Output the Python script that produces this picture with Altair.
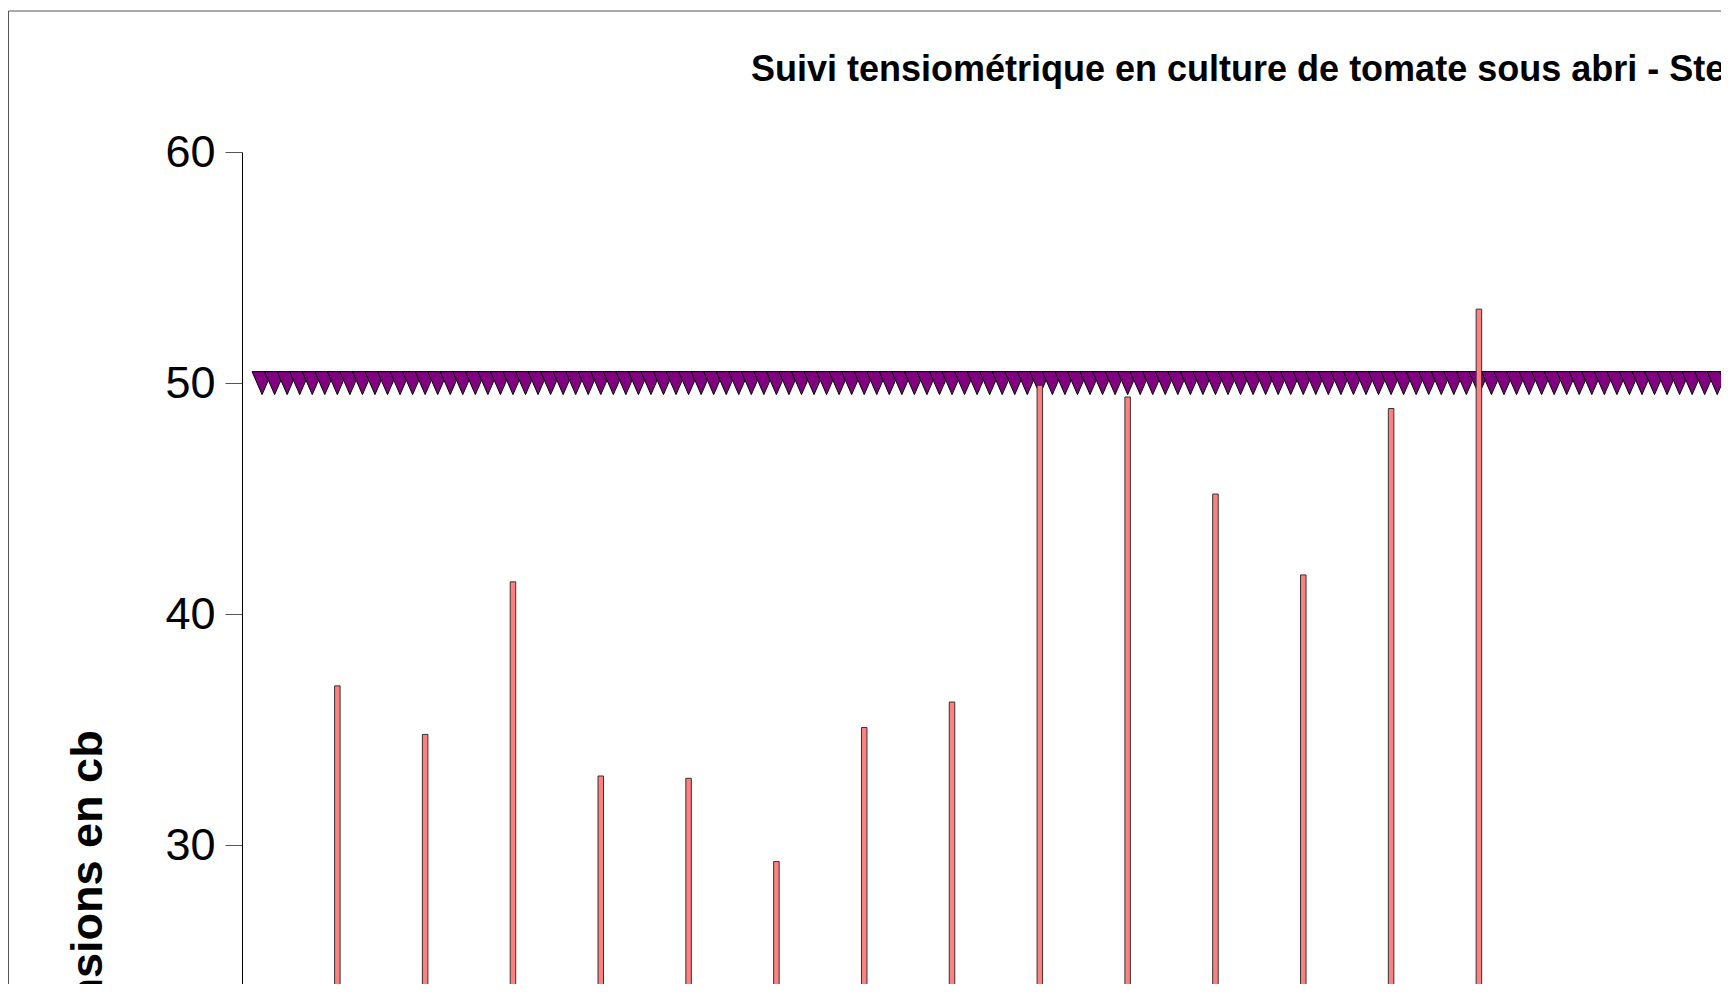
import altair as alt
import pandas as pd

# --- textes ---
titre_texte = "Suivi tensiométrique en culture de tomate sous abri - Ste"
titre_axe_y = "Tensions en cb"
graduations_y = [30, 40, 50, 60]

# --- relevés tensiométriques hebdomadaires (index de jour) ---
jours_releves = [6, 13, 20, 27, 34, 41, 48, 55, 62, 69, 76, 83, 90, 97]
tensions = [36.9, 34.8, 41.4, 33.0, 32.9, 29.3, 35.1, 36.2, 49.9, 49.4, 45.2, 41.7, 48.9, 53.2]

# --- seuil quotidien (cb) ---
jours_seuil = list(range(0, 125))
seuil = [
    50, 50, 50, 50, 50, 50, 50, 50, 50, 50, 50, 50, 50, 50, 50, 50, 50, 50, 50, 50, 50, 50, 50, 50, 50,
    50, 50, 50, 50, 50, 50, 50, 50, 50, 50, 50, 50, 50, 50, 50, 50, 50, 50, 50, 50, 50, 50, 50, 50, 50,
    50, 50, 50, 50, 50, 50, 50, 50, 50, 50, 50, 50, 50, 50, 50, 50, 50, 50, 50, 50, 50, 50, 50, 50, 50,
    50, 50, 50, 50, 50, 50, 50, 50, 50, 50, 50, 50, 50, 50, 50, 50, 50, 50, 50, 50, 50, 50, 50, 50, 50,
    50, 50, 50, 50, 50, 50, 50, 50, 50, 50, 50, 50, 50, 50, 50, 50, 50, 50, 50, 50, 50, 50, 50, 50, 50,
]

df_bar = pd.DataFrame({"jour": jours_releves, "valeur": tensions})
df_seuil = pd.DataFrame({"jour": jours_seuil, "valeur": seuil})

# visible window of the (larger) chart
W = 1479
H = 832
FONT = "Liberation Sans"

x_scale = alt.Scale(domain=[-1.6, 116.3], nice=False, zero=False, padding=0)
y_scale = alt.Scale(domain=[24, 60], nice=False, zero=False)

y_axis = alt.Axis(
    values=graduations_y, grid=False,
    labelFont=FONT, labelFontSize=45, labelColor="#000", labelPadding=10,
    tickSize=17, tickColor="#555", tickWidth=1,
    domainColor="#000", domainWidth=1,
    title=titre_axe_y, titleFont=FONT, titleFontSize=45, titleFontWeight="bold",
    titleColor="#000", titleAngle=270, titleX=-141, titleY=740,
    titleAlign="center", titleBaseline="alphabetic",
)
x_axis = alt.Axis(labels=False, ticks=False, grid=False, title="", domain=False)

X = alt.X("jour:Q", scale=x_scale, axis=x_axis)
Y = alt.Y("valeur:Q", scale=y_scale, axis=y_axis)

cadre = alt.Chart(alt.Data(values=[{"k": 0}])).mark_rect(
    fillOpacity=0, stroke="#555", strokeWidth=1
).encode(
    x=alt.value(-233.5), x2=alt.value(W + 60),
    y=alt.value(-141), y2=alt.value(H + 140),
)

points = alt.Chart(df_seuil).mark_point(
    shape="M-0.87,-1L0.87,-1L0,1Z", size=529, filled=True,
    fill="#800080", stroke="#000", strokeWidth=1, opacity=1,
).encode(x=X, y=Y)

barres = alt.Chart(df_bar).mark_bar(
    size=5.5, fill="#FF8080", stroke="#333", strokeWidth=1
).encode(x=X, y=Y)

titre = alt.Chart(alt.Data(values=[{"k": 0}])).mark_text(
    text=titre_texte, align="left", baseline="alphabetic",
    font=FONT, fontSize=36, fontWeight="bold", color="#000",
).encode(x=alt.value(509), y=alt.value(-71))

chart = alt.layer(cadre, points, barres, titre).properties(
    width=W, height=H,
    autosize=alt.AutoSizeParams(type="none"),
    padding={"left": 234, "top": 144, "right": 0, "bottom": 0},
    background="white",
).configure_view(strokeWidth=0)

chart.save("out.html", embed_options={"renderer": "svg", "actions": False})
